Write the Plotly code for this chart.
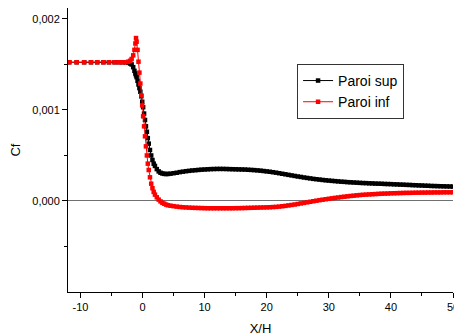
import plotly.graph_objects as go

# X/H positions (shared by both walls)
x_pos = [-11.8, -10.6, -9.4, -8.3, -7.3, -6.3, -5.4, -4.5, -3.8, -3.2, -2.7,
         -2.3, -2.0, -1.75, -1.5, -1.3, -1.15, -1.05, -0.95, -0.8, -0.65, -0.5, -0.35, -0.2, -0.05,
         0.1, 0.25, 0.4, 0.55, 0.7, 0.85, 1.0, 1.2, 1.4, 1.6, 1.8, 2.0, 2.3, 2.6, 2.9, 3.2, 3.5, 3.8, 4.1, 4.5,
         5.0, 5.5, 6.0, 6.5, 7.0, 7.5, 8.0, 8.5, 9.0, 9.5, 10.0, 10.5, 11.0, 11.5, 12.0, 12.5,
         13.0, 13.5, 14.0, 14.5, 15.0, 15.5, 16.0, 16.5, 17.0, 17.5, 18.0, 18.5, 19.0, 19.5,
         20.0, 20.5, 21.0, 21.5, 22.0, 22.5, 23.0, 23.5, 24.0, 24.5, 25.0, 25.5, 26.0, 26.5,
         27.0, 27.5, 28.0, 28.5, 29.0, 29.5, 30.0, 30.5, 31.0, 31.5, 32.0, 32.5, 33.0, 33.5,
         34.0, 34.5, 35.0, 35.5, 36.0, 36.5, 37.0, 37.5, 38.0, 38.5, 39.0, 39.5, 40.0, 40.5,
         41.0, 41.5, 42.0, 42.5, 43.0, 43.5, 44.0, 44.5, 45.0, 45.5, 46.0, 46.5, 47.0, 47.5,
         48.0, 48.5, 49.0, 49.5, 50.0]

# Cf values, in units of 1e-3
cf_sup_e3 = [1.524, 1.524, 1.524, 1.524, 1.524, 1.524, 1.524, 1.524, 1.524, 1.524, 1.524,
             1.52, 1.51, 1.50, 1.47, 1.43, 1.40, 1.38, 1.36, 1.32, 1.28, 1.24, 1.20, 1.15, 1.09,
             1.03, 0.96, 0.89, 0.82, 0.76, 0.69, 0.63, 0.56, 0.50, 0.45, 0.41, 0.385, 0.35, 0.325, 0.31, 0.302, 0.298, 0.296, 0.297, 0.300,
             0.305, 0.310, 0.317, 0.322, 0.327, 0.331, 0.335, 0.338, 0.341, 0.344, 0.346, 0.348, 0.350, 0.351, 0.352, 0.352,
             0.352, 0.351, 0.350, 0.349, 0.348, 0.347, 0.346, 0.345, 0.343, 0.341, 0.339, 0.336, 0.333, 0.329,
             0.325, 0.321, 0.316, 0.311, 0.305, 0.299, 0.293, 0.287, 0.281, 0.275, 0.269, 0.264, 0.258, 0.253,
             0.248, 0.243, 0.239, 0.235, 0.231, 0.227, 0.224, 0.221, 0.218, 0.215, 0.212, 0.210, 0.207, 0.205,
             0.203, 0.201, 0.199, 0.197, 0.196, 0.194, 0.193, 0.191, 0.190, 0.189, 0.187, 0.186, 0.185, 0.183,
             0.182, 0.180, 0.179, 0.177, 0.176, 0.174, 0.173, 0.171, 0.170, 0.168, 0.167, 0.165, 0.164, 0.163,
             0.162, 0.161, 0.160, 0.159, 0.158]

cf_inf_e3 = [1.524, 1.524, 1.524, 1.524, 1.524, 1.524, 1.524, 1.524, 1.524, 1.524, 1.524,
             1.53, 1.54, 1.56, 1.60, 1.66, 1.73, 1.79, 1.75, 1.66, 1.53, 1.41, 1.29, 1.16, 1.05,
             0.93, 0.82, 0.71, 0.60, 0.50, 0.41, 0.34, 0.26, 0.19, 0.14, 0.10, 0.07, 0.04, 0.015, -0.005, -0.02, -0.03, -0.04, -0.047, -0.052,
             -0.057, -0.062, -0.066, -0.069, -0.071, -0.073, -0.075, -0.076, -0.077, -0.078, -0.079, -0.080, -0.080, -0.080, -0.080, -0.080,
             -0.080, -0.080, -0.080, -0.080, -0.079, -0.079, -0.078, -0.077, -0.076, -0.075, -0.074, -0.073, -0.072, -0.071,
             -0.070, -0.069, -0.067, -0.065, -0.062, -0.058, -0.054, -0.049, -0.044, -0.039, -0.033, -0.027, -0.021, -0.015,
             -0.009, -0.003, 0.003, 0.009, 0.014, 0.019, 0.024, 0.029, 0.034, 0.038, 0.043, 0.047, 0.051, 0.055,
             0.058, 0.062, 0.065, 0.068, 0.070, 0.072, 0.074, 0.076, 0.078, 0.080, 0.081, 0.082, 0.084, 0.085,
             0.086, 0.087, 0.088, 0.089, 0.089, 0.090, 0.091, 0.091, 0.092, 0.092, 0.093, 0.093, 0.094, 0.094,
             0.094, 0.095, 0.095, 0.095, 0.096]

cf_sup = [v * 1e-3 for v in cf_sup_e3]
cf_inf = [v * 1e-3 for v in cf_inf_e3]

x_ticks = [-10, 0, 10, 20, 30, 40, 50]
x_ticktext = ["-10", "0", "10", "20", "30", "40", "50"]
y_ticks = [0.0, 0.001, 0.002]
y_ticktext = ["0,000", "0,001", "0,002"]

FONT = "Arial, Liberation Sans, sans-serif"

fig = go.Figure()
fig.add_trace(go.Scatter(x=x_pos, y=cf_sup, mode="lines+markers", name="Paroi sup",
                         line=dict(color="black", width=1),
                         marker=dict(symbol="square", size=4.5, color="black")))
fig.add_trace(go.Scatter(x=x_pos, y=cf_inf, mode="lines+markers", name="Paroi inf",
                         line=dict(color="red", width=1),
                         marker=dict(symbol="square", size=4.5, color="red")))

fig.update_layout(
    width=454, height=336,
    margin=dict(l=68, r=1, t=8, b=44, autoexpand=False),
    paper_bgcolor="white", plot_bgcolor="white",
    font=dict(family=FONT, size=11, color="black"),
    showlegend=True,
    legend=dict(x=0.595, y=0.803, xanchor="left", yanchor="top",
                bgcolor="white", bordercolor="#333333", borderwidth=1,
                font=dict(size=14), tracegroupgap=0,
                itemwidth=30, entrywidth=120, entrywidthmode="pixels"),
    xaxis=dict(range=[-12, 50], showline=True, linecolor="black", linewidth=1,
               showgrid=False, zeroline=False, mirror=False, automargin=False,
               tickmode="array", tickvals=x_ticks, ticktext=x_ticktext,
               ticklabeloverflow="allow",
               ticks="outside", ticklen=5, tickwidth=1, tickcolor="black",
               minor=dict(tickvals=[-5, 5, 15, 25, 35, 45], ticks="outside", ticklen=3,
                          tickcolor="black", showgrid=False),
               title=dict(text="X/H", font=dict(size=13), standoff=11)),
    yaxis=dict(range=[-0.001, 0.00212], showline=True, linecolor="black", linewidth=1,
               showgrid=False, zeroline=True, zerolinecolor="#707070", zerolinewidth=1,
               automargin=False,
               tickmode="array", tickvals=y_ticks, ticktext=y_ticktext,
               ticks="outside", ticklen=5, tickwidth=1, tickcolor="black",
               minor=dict(tickvals=[-0.0005, 0.0005, 0.0015], ticks="outside", ticklen=3,
                          tickcolor="black", showgrid=False),
               title=dict(text="Cf", font=dict(size=13), standoff=8)),
)

fig.write_html("out.html")
